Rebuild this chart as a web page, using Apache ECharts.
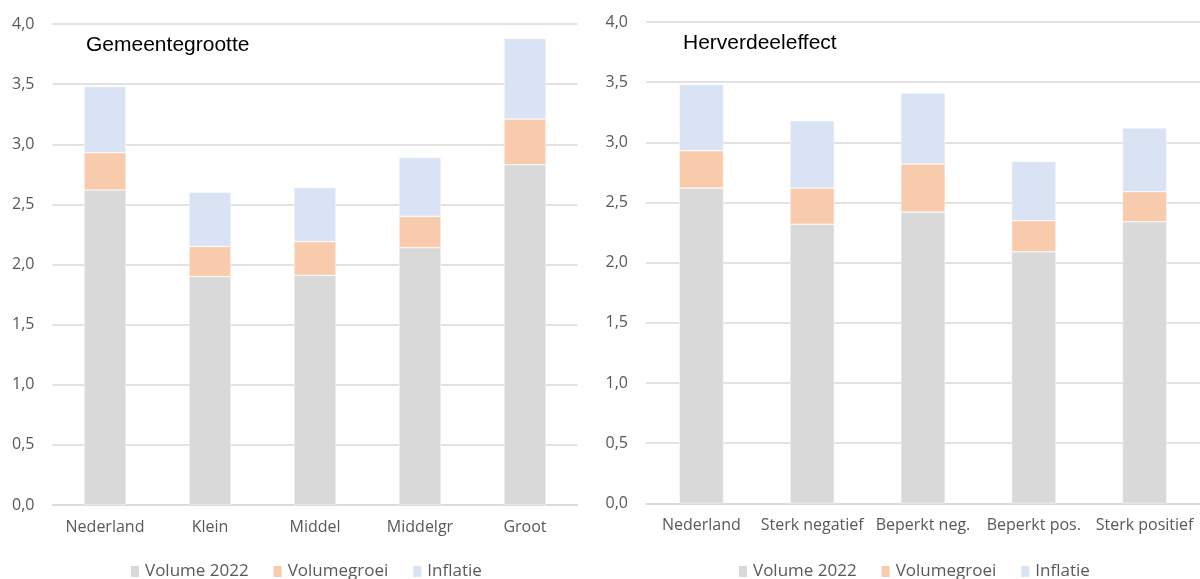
<!DOCTYPE html>
<html>
<head>
<meta charset="utf-8">
<script src="https://cdn.jsdelivr.net/npm/echarts@6/dist/echarts.min.js"></script>
<style>
  html, body { margin: 0; padding: 0; background: #fff; }
  #chart { width: 1200px; height: 579px; }
</style>
</head>
<body>
<div id="chart"></div>
<script>
// Gemeentegrootte panel
const sizeCategories = ['Nederland', 'Klein', 'Middel', 'Middelgr', 'Groot'];
const sizeVolume2022 = [2.62, 1.90, 1.91, 2.14, 2.83];
const sizeVolumegroei = [0.31, 0.25, 0.28, 0.26, 0.38];
const sizeInflatie = [0.55, 0.45, 0.45, 0.49, 0.67];

// Herverdeeleffect panel
const effectCategories = ['Nederland', 'Sterk negatief', 'Beperkt neg.', 'Beperkt pos.', 'Sterk positief'];
const effectVolume2022 = [2.62, 2.32, 2.42, 2.09, 2.34];
const effectVolumegroei = [0.31, 0.30, 0.40, 0.26, 0.25];
const effectInflatie = [0.55, 0.56, 0.59, 0.49, 0.53];

const seriesNames = ['Volume 2022', 'Volumegroei', 'Inflatie'];
const seriesColors = ['#d9d9d9', '#f8cbad', '#dae3f3'];
const panelTitles = ['Gemeentegrootte', 'Herverdeeleffect'];

const labelFont = "'Open Sans', 'Noto Sans', sans-serif";
const titleFont = "'Liberation Sans', Arial, sans-serif";
const textGrey = '#595959';
const gridGrey = '#d9d9d9';

const chart = echarts.init(document.getElementById('chart'));

function xAxisFor(cats, idx) {
  return {
    type: 'category', gridIndex: idx, data: cats,
    axisLine: { show: true, lineStyle: { color: gridGrey, width: 1.5 } },
    axisTick: { show: false },
    axisLabel: { interval: 0, margin: 14, color: textGrey, fontSize: 16, fontFamily: labelFont }
  };
}
function yAxisFor(idx) {
  return {
    type: 'value', gridIndex: idx, min: 0, max: 4, interval: 0.5,
    axisLine: { show: false }, axisTick: { show: false },
    splitLine: { lineStyle: { color: gridGrey, width: 1.5 } },
    axisLabel: {
      margin: 18, color: textGrey, fontSize: 16, fontFamily: labelFont,
      formatter: v => v.toFixed(1).replace('.', ',')
    }
  };
}
function barSeries(name, data, idx, color) {
  return {
    name, type: 'bar', stack: 'panel' + idx, xAxisIndex: idx, yAxisIndex: idx,
    data, barWidth: '40%',
    itemStyle: { color, borderColor: '#ffffff', borderWidth: 0.5 },
    emphasis: { disabled: true }
  };
}
function legendFor(leftX) {
  return {
    data: seriesNames, left: leftX, top: 563, padding: 0,
    icon: 'rect', itemWidth: 10, itemHeight: 13, itemGap: 23,
    textStyle: { color: textGrey, fontSize: 17, fontFamily: labelFont },
    selectedMode: false
  };
}

const sizeSets = [sizeVolume2022, sizeVolumegroei, sizeInflatie];
const effectSets = [effectVolume2022, effectVolumegroei, effectInflatie];

chart.setOption({
  animation: false,
  title: [
    { text: panelTitles[0], left: 86, top: 35, padding: 0,
      textStyle: { fontSize: 21, fontWeight: 'normal', color: '#000', fontFamily: titleFont } },
    { text: panelTitles[1], left: 683, top: 33, padding: 0,
      textStyle: { fontSize: 21, fontWeight: 'normal', color: '#000', fontFamily: titleFont } }
  ],
  grid: [
    { left: 52.5, width: 525, top: 24, height: 481 },
    { left: 646, right: 0, top: 22, height: 481.3 }
  ],
  legend: [legendFor(129), legendFor(737)],
  xAxis: [xAxisFor(sizeCategories, 0), xAxisFor(effectCategories, 1)],
  yAxis: [yAxisFor(0), yAxisFor(1)],
  series: [
    ...seriesNames.map((n, i) => barSeries(n, sizeSets[i], 0, seriesColors[i])),
    ...seriesNames.map((n, i) => barSeries(n, effectSets[i], 1, seriesColors[i]))
  ]
});
</script>
</body>
</html>
